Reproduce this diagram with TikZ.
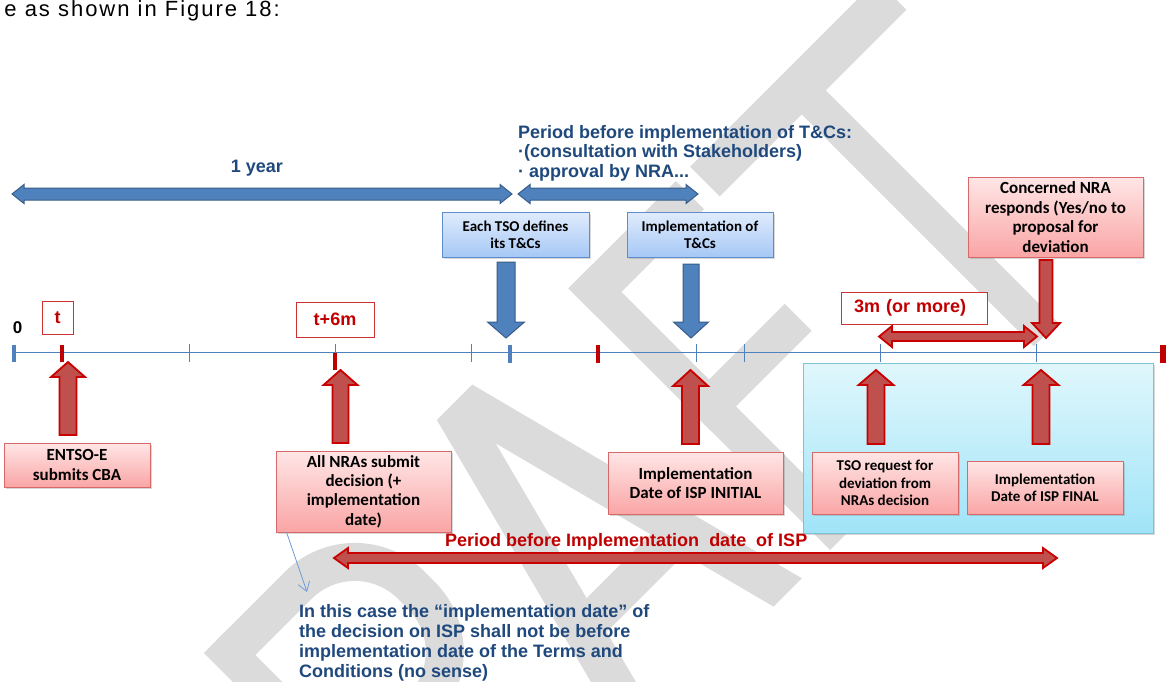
\documentclass[tikz,border=0pt]{standalone}
\usepackage{fontspec}
\setmainfont{Liberation Sans}
\newfontfamily\boxfont{Carlito}
\usetikzlibrary{shadows,arrows.meta,calc}

\definecolor{tlblue}{RGB}{79,129,189}
\definecolor{tlblueedge}{RGB}{56,93,138}
\definecolor{txtblue}{RGB}{31,73,125}
\definecolor{txtred}{RGB}{192,0,0}
\definecolor{arrred}{RGB}{192,80,77}
\definecolor{arrredge}{RGB}{200,0,0}
\definecolor{markedge}{RGB}{205,50,50}
\definecolor{pinktop}{RGB}{255,230,230}
\definecolor{pinkbot}{RGB}{250,165,165}
\definecolor{pinkedge}{RGB}{215,105,105}
\definecolor{bluetop}{RGB}{224,236,252}
\definecolor{bluebot}{RGB}{166,200,246}
\definecolor{blueedge}{RGB}{95,140,205}
\definecolor{cyantop}{RGB}{224,247,252}
\definecolor{cyanbot}{RGB}{160,228,248}
\definecolor{cyanedge}{RGB}{125,195,215}
\definecolor{notecol}{RGB}{110,155,215}
\definecolor{wmgray}{RGB}{219,219,219}

% vertical block arrow: style, x, y of tail, y of tip, shaft half-width, head half-width, signed head length
\newcommand{\vblock}[7]{%
  \draw[#1] ({#2-#5},#3) -- ({#2-#5},{#4+#7}) -- ({#2-#6},{#4+#7}) -- (#2,#4)
    -- ({#2+#6},{#4+#7}) -- ({#2+#5},{#4+#7}) -- ({#2+#5},#3) -- cycle;}
% horizontal double-headed block arrow: style, left tip x, right tip x, y, shaft half, head half, head length
\newcommand{\hdouble}[7]{%
  \draw[#1] (#2,#4) -- ({#2+#7},{#4-#6}) -- ({#2+#7},{#4-#5}) -- ({#3-#7},{#4-#5})
    -- ({#3-#7},{#4-#6}) -- (#3,#4) -- ({#3-#7},{#4+#6}) -- ({#3-#7},{#4+#5})
    -- ({#2+#7},{#4+#5}) -- ({#2+#7},{#4+#6}) -- cycle;}

\begin{document}
\begin{tikzpicture}[x=1pt,y=-1pt,
  bluearrow/.style={fill=tlblue, draw=tlblueedge, line width=1},
  redarrow/.style={fill=arrred, draw=arrredge, line width=1.8},
  boldblue/.style={text=txtblue, font=\bfseries\fontsize{18}{19.5}\selectfont, inner sep=0},
  boldred/.style={text=txtred, font=\bfseries\fontsize{18}{19.5}\selectfont, inner sep=0},
  markbox/.style={draw=markedge, fill=white, line width=1, text=txtred,
    font=\bfseries\fontsize{18}{20}\selectfont, inner sep=0},
  pinkbox/.style={draw=pinkedge, top color=pinktop, bottom color=pinkbot, line width=0.8,
    drop shadow={shadow xshift=1.5pt, shadow yshift=-2pt, opacity=0.3},
    align=center, inner sep=0},
  bluebox/.style={draw=blueedge, top color=bluetop, bottom color=bluebot, line width=0.8,
    drop shadow={shadow xshift=1.5pt, shadow yshift=-2pt, opacity=0.3},
    align=center, inner sep=0},
  largetxt/.style={font=\boxfont\bfseries\fontsize{17}{19.4}\selectfont},
  smalltxt/.style={font=\boxfont\bfseries\fontsize{15}{17.3}\selectfont},
  tickthin/.style={draw=tlblue, line width=0.8},
  noteline/.style={draw=notecol, line width=0.8, -{Straight Barb[length=9pt,width=12pt]}},
  wmstroke/.style={draw=wmgray, line width=35, line cap=butt, line join=miter}
]
\useasboundingbox (0,0) rectangle (1166,681);
\fill[white] (0,0) rectangle (1166,681);

% DRAFT watermark, letters built in a frame turned by 45 degrees
% (u along the baseline towards the upper right, v towards the upper left)
\begin{scope}
  \clip (0,0) rectangle (1166,681);
  \begin{scope}[shift={(690,690)}, x={(0.7071pt,0.7071pt)}, y={(-0.7071pt,0.7071pt)}]
    \clip (-900,0) -- (900,0) -- (900,370) -- (-900,370) -- cycle;
    % D
    \draw[wmstroke] (-587,0) -- (-587,370);
    \draw[wmstroke, line width=38, rounded corners=117] (-587,351) -- (-403,351) -- (-403,19) -- (-587,19);
    % R
    \draw[wmstroke] (-300,0) -- (-300,370);
    \draw[wmstroke, line width=38, rounded corners=80] (-300,351) -- (-123,351) -- (-123,177) -- (-300,177);
    \draw[wmstroke, line width=38] (-215,177) -- (-118,-10);
    % A
    \fill[wmgray, even odd rule] (-84,0) -- (12,370) -- (62,370) -- (158,0) -- (118,0) -- (92,100)
      -- (-18,100) -- (-44,0) -- cycle (-8.2,138) -- (82.2,138) -- (37,312) -- cycle;
    % F
    \draw[wmstroke] (215.5,0) -- (215.5,370);
    \fill[wmgray] (198,330) -- (350,330) -- (350,370) -- (198,370) -- cycle;
    \fill[wmgray] (198,168) -- (340,168) -- (340,206) -- (198,206) -- cycle;
    % T
    \fill[wmgray] (370,328) -- (634,328) -- (634,370) -- (370,370) -- cycle;
    \draw[wmstroke, line width=34] (503,0) -- (503,330);
  \end{scope}
\end{scope}

% running text above the figure
\node[anchor=base east, inner sep=0,
      font=\fontsize{22}{26}\selectfont\addfontfeatures{LetterSpace=9}] (intro) at (280,16)
      {e as shown in Figure 18:};

% upper periods
\hdouble{bluearrow}{12}{512}{194}{6}{9.5}{12}
\node[boldblue, anchor=base] (yearlbl) at (257,172) {1 year};
\hdouble{bluearrow}{518}{698}{194}{6}{9.5}{12}
\node[boldblue, anchor=north west, align=left] (tcperiod) at (518,125)
  {Period before implementation of T\&Cs:\\·(consultation with Stakeholders)\\· approval by NRA...};

% T&Cs boxes and their arrows
\node[bluebox, smalltxt, minimum width=147, minimum height=45] (tsodef) at (515.5,234.5)
  {Each TSO defines\\its T\&Cs};
\node[bluebox, smalltxt, minimum width=146, minimum height=45] (tcimpl) at (700,234.5)
  {Implementation of\\T\&Cs};
\vblock{bluearrow}{506}{262}{338}{9}{18.5}{-16}
\vblock{bluearrow}{691}{264}{338}{8}{17.5}{-16}

% concerned NRA
\node[pinkbox, largetxt, minimum width=175, minimum height=80] (nraresp) at (1055.5,217)
  {Concerned NRA\\responds (Yes/no to\\proposal for\\deviation};
\vblock{redarrow}{1046}{260}{338}{6.5}{14}{-15}

% markers above the timeline
\node[font=\bfseries\fontsize{17}{20}\selectfont, anchor=base, inner sep=0] (zero) at (17.5,333) {0};
\node[markbox, minimum width=31, minimum height=33] (tmark) at (57.5,317.5) {t};
\node[markbox, minimum width=78, minimum height=35] (t6mark) at (335,319.5) {t+6m};
\node[markbox, minimum width=146, minimum height=32, text width=120, inner xsep=13,
      align=left] (threem) at (914,308) {3m (or more)};
\hdouble{redarrow}{879}{1037}{336.5}{4.5}{10.5}{13}

% timeline
\coordinate (tlstart) at (12,352);
\coordinate (tlend) at (1163,352);
\draw[tlblue, line width=1] (tlstart) -- (tlend);
\foreach \tx in {189,335,471,696,744,880,1036}
  \draw[tickthin] (\tx,344) -- (\tx,362);
\fill[tlblue] (12,345) rectangle (16,362);
\fill[tlblue] (508,345) rectangle (512,363);
\fill[txtred] (60,345) rectangle (64,362);
\fill[txtred] (333,353) rectangle (337,370);
\fill[txtred] (596,345) rectangle (600,363);
\fill[txtred] (1160,345) rectangle (1166,363);

% deviation group
\node[draw=cyanedge, top color=cyantop, bottom color=cyanbot, line width=1,
      drop shadow={shadow xshift=1.5pt, shadow yshift=-2pt, opacity=0.3},
      minimum width=350, minimum height=170, inner sep=0] (devgroup) at (978,448) {};

% upward arrows onto the timeline
\vblock{redarrow}{68}{435}{362}{8.5}{17}{15}
\vblock{redarrow}{340.5}{443}{370}{8}{17}{15}
\vblock{redarrow}{690.5}{444}{370}{8.5}{17.5}{16}
\vblock{redarrow}{876}{444}{370}{8.5}{17.5}{15}
\vblock{redarrow}{1041}{444}{370}{8.5}{17.5}{15}

% event boxes
\node[pinkbox, largetxt, minimum width=146, minimum height=44] (entsoe) at (77,465)
  {ENTSO-E\\submits CBA};
\node[pinkbox, largetxt, minimum width=175, minimum height=81] (nras) at (363.5,491.5)
  {All NRAs submit\\decision (+\\implementation\\date)};
\node[pinkbox, largetxt, minimum width=175, minimum height=62] (ispinit) at (695.5,483)
  {Implementation\\Date of ISP INITIAL};
\node[pinkbox, smalltxt, minimum width=146, minimum height=62] (tsoreq) at (885,483)
  {TSO request for\\deviation from\\NRAs decision};
\node[pinkbox, smalltxt, minimum width=156, minimum height=53] (ispfinal) at (1045,487.5)
  {Implementation\\Date of ISP FINAL};

% overall ISP period
\node[boldred, anchor=base west] (isplbl) at (445,546) {Period before Implementation~ date~ of ISP};
\hdouble{redarrow}{334}{1057}{558}{5}{10}{14}

% note on the NRA decision
\coordinate (notetip) at (307,592);
\draw[noteline] ($(nras.south west)+(11,0)$) -- (notetip);
\node[boldblue, anchor=north west, align=left, font=\bfseries\fontsize{18}{20}\selectfont]
  (note) at (299,604)
  {In this case the “implementation date” of\\the decision on ISP shall not be before\\implementation date of the Terms and\\Conditions (no sense)};
\end{tikzpicture}
\end{document}
